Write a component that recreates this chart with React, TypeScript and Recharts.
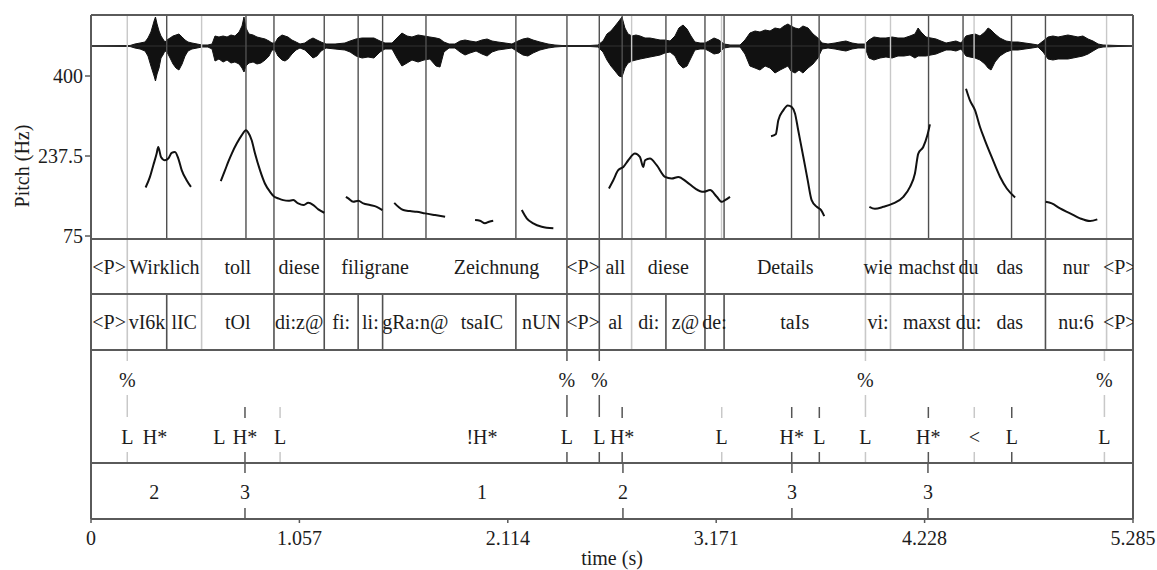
import React from 'react';
import {
  ComposedChart,
  XAxis,
  YAxis,
  Area,
  Line,
  Scatter,
  ReferenceLine,
} from 'recharts';

const T_MAX = 5.285;
const TIME_TICKS = [0, 1.057, 2.114, 3.171, 4.228, 5.285];
const PITCH_TICKS = [75, 237.5, 400];

// waveform envelope: [time (s), upper amplitude, lower amplitude] (arbitrary units)
const WAVE_ENVELOPE = [
  [0, 0, 0], [0.198, 0.5, 0.5], [0.223, 2, 2], [0.249, 3, 3], [0.274, 4, 5], [0.289, 8, 10],
  [0.304, 14, 20], [0.32, 25, 30], [0.327, 29, 35], [0.335, 22, 28], [0.345, 15, 22], [0.355, 10, 12],
  [0.365, 7, 9], [0.375, 4, 5], [0.385, 6, 6], [0.401, 8, 12], [0.416, 10, 18], [0.431, 11, 22],
  [0.446, 12, 24], [0.462, 9, 18], [0.477, 6, 10], [0.492, 4, 5], [0.512, 3, 3], [0.538, 2, 2],
  [0.563, 1, 1], [0.593, 1, 1], [0.614, 2, 3], [0.629, 10, 15], [0.649, 9, 13], [0.67, 10, 16],
  [0.69, 9, 14], [0.71, 11, 17], [0.73, 10, 16], [0.751, 14, 18], [0.766, 20, 22], [0.776, 29, 26],
  [0.786, 18, 20], [0.801, 12, 17], [0.822, 11, 16], [0.842, 9, 18], [0.862, 8, 17], [0.883, 7, 14],
  [0.903, 5, 10], [0.918, 3, 4], [0.933, 3, 4], [0.948, 8, 10], [0.969, 11, 14], [0.984, 10, 15],
  [0.999, 9, 13], [1.019, 6, 8], [1.04, 4, 4], [1.06, 2, 2], [1.085, 3, 4], [1.106, 6, 8],
  [1.126, 8, 12], [1.146, 6, 10], [1.167, 4, 5], [1.192, 2, 2], [1.238, 2, 3], [1.288, 3, 4],
  [1.314, 5, 6], [1.344, 7, 10], [1.375, 8, 12], [1.405, 8, 11], [1.435, 8, 12], [1.466, 5, 6],
  [1.491, 3, 3], [1.527, 3, 3], [1.552, 8, 12], [1.577, 13, 20], [1.603, 10, 17], [1.628, 9, 14],
  [1.659, 11, 16], [1.689, 10, 14], [1.719, 9, 13], [1.75, 8, 20], [1.77, 7, 21], [1.79, 4, 6],
  [1.816, 2, 2], [1.846, 2, 2], [1.872, 5, 6], [1.897, 6, 9], [1.922, 5, 7], [1.953, 4, 5],
  [1.983, 6, 8], [2.009, 7, 10], [2.034, 5, 6], [2.064, 4, 4], [2.1, 3, 3], [2.135, 2, 2],
  [2.166, 5, 6], [2.191, 7, 9], [2.216, 8, 10], [2.242, 6, 7], [2.277, 4, 4], [2.318, 2, 2],
  [2.353, 1, 1], [2.389, 0.5, 0.5], [2.531, 0.5, 0.5], [2.571, 1, 1], [2.597, 5, 6], [2.617, 12, 14],
  [2.637, 15, 20], [2.658, 20, 25], [2.678, 25, 30], [2.693, 29, 31], [2.708, 18, 22], [2.724, 12, 17],
  [2.744, 10, 15], [2.764, 11, 14], [2.785, 10, 13], [2.81, 8, 12], [2.835, 8, 11], [2.861, 7, 10],
  [2.886, 6, 9], [2.911, 6, 7], [2.937, 5, 6], [2.962, 10, 10], [2.982, 18, 18], [3.003, 21, 22],
  [3.023, 17, 20], [3.043, 10, 12], [3.063, 4, 4], [3.089, 3, 3], [3.114, 3, 3], [3.134, 5, 5],
  [3.16, 8, 8], [3.185, 6, 7], [3.211, 2, 2], [3.241, 1, 1], [3.292, 1, 1], [3.317, 6, 8],
  [3.342, 13, 20], [3.368, 15, 22], [3.393, 14, 24], [3.419, 16, 20], [3.444, 15, 22], [3.469, 18, 27],
  [3.495, 17, 24], [3.515, 20, 22], [3.535, 22, 20], [3.55, 20, 25], [3.571, 18, 27], [3.591, 17, 24],
  [3.611, 20, 27], [3.637, 18, 22], [3.662, 12, 18], [3.687, 8, 12], [3.708, 3, 3], [3.738, 2, 2],
  [3.774, 3, 3], [3.799, 4, 4], [3.829, 5, 5], [3.86, 3, 3], [3.89, 2, 2], [3.926, 2, 2],
  [3.946, 6, 12], [3.971, 9, 14], [4.002, 8, 12], [4.032, 8, 11], [4.063, 9, 12], [4.093, 8, 10],
  [4.124, 8, 10], [4.154, 10, 9], [4.179, 12, 12], [4.195, 18, 10], [4.21, 14, 10], [4.235, 9, 10],
  [4.26, 8, 9], [4.286, 7, 8], [4.311, 5, 6], [4.337, 3, 4], [4.362, 4, 4], [4.387, 5, 5],
  [4.413, 3, 3], [4.438, 10, 10], [4.458, 11, 11], [4.484, 12, 12], [4.509, 10, 14], [4.534, 14, 18],
  [4.55, 18, 22], [4.565, 16, 24], [4.585, 12, 16], [4.61, 8, 10], [4.641, 5, 6], [4.671, 4, 4],
  [4.702, 4, 4], [4.737, 3, 3], [4.773, 2, 2], [4.803, 1, 1], [4.829, 5, 6], [4.854, 9, 13],
  [4.879, 10, 14], [4.905, 9, 13], [4.93, 10, 13], [4.955, 11, 13], [4.981, 10, 12], [5.006, 9, 11],
  [5.031, 10, 10], [5.057, 7, 8], [5.082, 5, 5], [5.108, 2, 2], [5.133, 1, 1], [5.285, 0, 0],
];

// pitch contour segments: [time (s), F0 (Hz)]
const PITCH_WIRKLICH = [
  [0.277, 173.6], [0.299, 195], [0.316, 218.8], [0.333, 242.5], [0.341, 255.8], [0.355, 235.6],
  [0.375, 228.9], [0.392, 232.3], [0.409, 243.7], [0.426, 245.7], [0.443, 232.3], [0.46, 208.7],
  [0.485, 188.4], [0.507, 174.8],
];
const PITCH_TOLL_DIESE = [
  [0.658, 186.4], [0.68, 208.7], [0.696, 225.5], [0.714, 242.5], [0.739, 262.7], [0.764, 279.5],
  [0.786, 289.7], [0.796, 286.2], [0.815, 269.4], [0.832, 242.5], [0.857, 208.7], [0.882, 181.7],
  [0.908, 164.7], [0.93, 154.6], [0.95, 151.3], [0.975, 147.9], [1.001, 146.5], [1.026, 147.9],
  [1.051, 141.2], [1.077, 137.8], [1.102, 142.4], [1.128, 137.8], [1.153, 129.1], [1.183, 122.2],
];
const PITCH_FILI = [
  [1.293, 154.6], [1.305, 151.3], [1.33, 144.5], [1.356, 146.5], [1.381, 141.2], [1.415, 137.8],
  [1.449, 134.3], [1.478, 127.7],
];
const PITCH_GRANE = [
  [1.538, 142.4], [1.559, 134.3], [1.584, 127.7], [1.618, 125.6], [1.652, 124.2], [1.694, 121],
  [1.745, 117.5], [1.796, 114.1],
];
const PITCH_TSAI = [[1.948, 107.4], [1.973, 106], [1.998, 100.7], [2.019, 104], [2.04, 106]];
const PITCH_NUN = [[2.185, 127.7], [2.21, 110.8], [2.243, 100.7], [2.286, 93.8], [2.345, 90.6]];
const PITCH_ALL_DIESE = [
  [2.627, 171.6], [2.649, 188.4], [2.674, 208.7], [2.7, 215.3], [2.725, 228.9], [2.759, 242.5],
  [2.784, 235.6], [2.801, 215.3], [2.81, 228.9], [2.835, 232.3], [2.869, 218.8], [2.911, 195],
  [2.945, 191.8], [2.979, 195], [3.021, 185], [3.064, 171.6], [3.106, 164.7], [3.14, 168.2],
  [3.174, 154.6], [3.199, 144.5], [3.216, 147.9], [3.241, 154.6],
];
const PITCH_DETAILS = [
  [3.449, 277.5], [3.473, 281.6], [3.486, 309.9], [3.511, 330.2], [3.534, 340.3], [3.554, 336.8],
  [3.571, 323.5], [3.587, 289.7], [3.613, 235.6], [3.635, 188.4], [3.655, 147.9], [3.681, 134.3],
  [3.703, 127.7], [3.719, 115.5],
];
const PITCH_WIE_MACHST = [
  [3.948, 134.3], [3.976, 130.3], [4.019, 134.3], [4.069, 141.2], [4.12, 154.6], [4.154, 174.8],
  [4.179, 202], [4.196, 242.5], [4.221, 255.8], [4.242, 279.5], [4.255, 301.8],
];
const PITCH_DU_DAS = [
  [4.438, 374.1], [4.458, 350.4], [4.484, 330.2], [4.509, 296.3], [4.534, 269.4], [4.568, 235.6],
  [4.611, 195], [4.645, 171.6], [4.687, 153.4],
];
const PITCH_NUR = [
  [4.842, 144.5], [4.873, 141.2], [4.915, 131.1], [4.966, 121], [5.016, 110.8], [5.067, 105.4],
  [5.104, 108.8],
];
const PITCH_SEGMENTS = [
  PITCH_WIRKLICH, PITCH_TOLL_DIESE, PITCH_FILI, PITCH_GRANE, PITCH_TSAI, PITCH_NUN,
  PITCH_ALL_DIESE, PITCH_DETAILS, PITCH_WIE_MACHST, PITCH_DU_DAS, PITCH_NUR,
];

// boundaries drawn over the pitch panel, the ones drawn faint, and ones not drawn in the tiers
const PITCH_MARKS = [
  0.184, 0.384, 0.561, 0.786, 0.928, 1.183, 1.355, 1.479, 1.699, 2.155, 2.414, 2.578, 2.694, 2.742,
  2.916, 3.114, 3.198, 3.211, 3.553, 3.693, 3.928, 4.055, 4.248, 4.423, 4.479, 4.669, 4.841, 5.151,
];
const FAINT_BOUNDS = [0.184, 0.561, 2.742, 3.198, 3.928, 4.055, 4.479, 5.151];
const HIDDEN_BOUNDS = [1.699, 1.81];

// word tier
const WORD_LABELS = [
  '<P>', 'Wirklich', 'toll', 'diese', 'filigrane', 'Zeichnung', '<P>', 'all', 'diese', 'Details',
  'wie', 'machst', 'du', 'das', 'nur', '<P>',
];
const WORD_STARTS = [
  0, 0.184, 0.561, 0.928, 1.183, 1.699, 2.414, 2.578, 2.742, 3.114, 3.928, 4.055, 4.423, 4.479,
  4.841, 5.151,
];

// phone tier
const PHONE_LABELS = [
  '<P>', 'vI6k', 'lIC', 'tOl', 'di:z@', 'fi:', 'li:', 'gRa:n@', 'tsaIC', 'nUN', '<P>', 'al', 'di:',
  'z@', 'de:', 'taIs', 'vi:', 'maxst', 'du:', 'das', 'nu:6', '<P>',
];
const PHONE_STARTS = [
  0, 0.184, 0.384, 0.561, 0.928, 1.183, 1.355, 1.479, 1.81, 2.155, 2.414, 2.578, 2.742, 2.916,
  3.114, 3.211, 3.928, 4.055, 4.423, 4.479, 4.841, 5.151,
];

// tone tier (ToBI)
const TONE_TIMES = [
  0.184, 0.325, 0.651, 0.781, 0.959, 1.983, 2.414, 2.578, 2.694, 3.199, 3.554, 3.694, 3.928, 4.247,
  4.48, 4.67, 5.14,
];
const TONE_LABELS = ['L', 'H*', 'L', 'H*', 'L', '!H*', 'L', 'L', 'H*', 'L', 'H*', 'L', 'L', 'H*', '<', 'L', 'L'];
const TONE_PHRASE = [true, false, false, false, false, false, true, true, false, false, false, false, true, false, false, false, true];
const TONE_MARK = ['faint', '', '', 'dark', 'faint', '', 'dark', 'dark', 'dark', 'faint', 'dark', 'dark', 'faint', 'dark', 'faint', 'dark', 'faint'];

// break index tier
const BREAK_TIMES = [0.321, 0.781, 1.983, 2.698, 3.555, 4.245];
const BREAK_LABELS = ['2', '3', '1', '2', '3', '3'];
const BREAK_MARKED = [false, true, false, true, true, true];

const FONT = "'Liberation Serif', 'Times New Roman', serif";
const TEXT = '#1c1c1c';
const DARK = '#505050';
const FAINT = '#c8c8c8';
const FRAME = '#5a5a5a';

// vertical layout of the panels (layout axis units, 0 = top of frame)
const PITCH_BOTTOM = 224;
const WORD_BOTTOM = 279;
const PHONE_BOTTOM = 335;
const TONE_BOTTOM = 448;
const FRAME_BOTTOM = 504;

const near = (list: number[], t: number) => list.some((f) => Math.abs(f - t) < 0.004);

const intervals = (labels: string[], starts: number[], y: number) =>
  labels.map((label, i) => ({
    t: (starts[i] + (i + 1 < starts.length ? starts[i + 1] : T_MAX)) / 2,
    y,
    label,
  }));

const wordCells = intervals(WORD_LABELS, WORD_STARTS, 251.5);
const phoneCells = intervals(PHONE_LABELS, PHONE_STARTS, 307);
const toneCells = TONE_LABELS.map((label, i) => ({ t: TONE_TIMES[i], y: 422, label }));
const phraseCells = TONE_TIMES.filter((_, i) => TONE_PHRASE[i]).map((t) => ({ t, y: 365, label: '%' }));
const breakCells = BREAK_LABELS.map((label, i) => ({ t: BREAK_TIMES[i], y: 477, label }));

const waveData = WAVE_ENVELOPE.map(([t, up, down]) => ({ t, range: [-down, up] }));

const TierText = (props: any) => {
  const { cx, cy, payload } = props;
  return (
    <text
      x={cx}
      y={cy}
      textAnchor="middle"
      dominantBaseline="central"
      fontFamily={FONT}
      fontSize={20}
      fill={TEXT}
    >
      {payload.label}
    </text>
  );
};

const vseg = (key: string, t: number, y1: number, y2: number, color: string, w = 1.5) => (
  <ReferenceLine
    key={key}
    yAxisId="lay"
    segment={[{ x: t, y: y1 }, { x: t, y: y2 }]}
    stroke={color}
    strokeWidth={w}
    ifOverflow="visible"
  />
);

const TimeTick = ({ x, y, payload }: any) => (
  <text x={x} y={y + 13} textAnchor="middle" dominantBaseline="central" fontFamily={FONT} fontSize={20} fill={TEXT}>
    {payload.value === 0 ? '0' : Number(payload.value).toFixed(3)}
  </text>
);

const PitchTick = ({ x, y, payload }: any) => (
  <text x={x} y={y} textAnchor="end" dominantBaseline="central" fontFamily={FONT} fontSize={20} fill={TEXT}>
    {payload.value}
  </text>
);

export default function App() {
  const lines: React.ReactNode[] = [];

  // boundaries across the pitch / waveform panel
  PITCH_MARKS.forEach((t, i) =>
    lines.push(vseg(`p${i}`, t, 0, PITCH_BOTTOM, near(FAINT_BOUNDS, t) ? FAINT : DARK, 1.4)),
  );
  // interval tier boundaries
  WORD_STARTS.slice(1).forEach((t, i) => {
    if (near(HIDDEN_BOUNDS, t)) return;
    lines.push(vseg(`w${i}`, t, PITCH_BOTTOM, WORD_BOTTOM, near(FAINT_BOUNDS, t) ? FAINT : DARK, 1.6));
  });
  PHONE_STARTS.slice(1).forEach((t, i) => {
    if (near(HIDDEN_BOUNDS, t)) return;
    lines.push(vseg(`ph${i}`, t, WORD_BOTTOM, PHONE_BOTTOM, near(FAINT_BOUNDS, t) ? FAINT : DARK, 1.6));
  });
  // point tier marks
  TONE_TIMES.forEach((t, i) => {
    const mark = TONE_MARK[i];
    if (!mark) return;
    const c = mark === 'faint' ? FAINT : '#555';
    if (TONE_PHRASE[i]) {
      lines.push(vseg(`tp0${i}`, t, PHONE_BOTTOM, 346, c));
      lines.push(vseg(`tp1${i}`, t, 380, 402, c));
    } else {
      lines.push(vseg(`ta${i}`, t, 392, 403, c));
    }
    lines.push(vseg(`tb${i}`, t, 437, TONE_BOTTOM, c));
  });
  BREAK_TIMES.forEach((t, i) => {
    if (!BREAK_MARKED[i]) return;
    lines.push(vseg(`ba${i}`, t, TONE_BOTTOM, 458, '#555'));
    lines.push(vseg(`bb${i}`, t, 493, FRAME_BOTTOM, '#555'));
  });

  return (
    <div style={{ position: 'absolute', left: 0, top: 0, width: 1157, height: 570, background: '#fff' }}>
      <ComposedChart width={1157} height={570} margin={{ top: 15, right: 24, bottom: 0, left: 11 }}>
        <XAxis
          dataKey="t"
          type="number"
          domain={[0, T_MAX]}
          ticks={TIME_TICKS}
          allowDataOverflow
          height={51}
          tickSize={4}
          tickLine={{ stroke: FRAME, strokeWidth: 1.5 }}
          axisLine={{ stroke: FRAME, strokeWidth: 2 }}
          tick={<TimeTick />}
          label={{
            content: ({ viewBox }: any) => (
              <text
                x={viewBox.x + viewBox.width / 2}
                y={558}
                textAnchor="middle"
                dominantBaseline="central"
                fontFamily={FONT}
                fontSize={20}
                fill={TEXT}
              >
                time (s)
              </text>
            ),
          }}
        />
        <YAxis
          yAxisId="pitch"
          orientation="left"
          type="number"
          width={80}
          domain={[-499.8, 523.9]}
          ticks={PITCH_TICKS}
          allowDataOverflow
          axisLine={false}
          tickSize={6}
          tickMargin={2}
          tickLine={{ stroke: FRAME, strokeWidth: 1.5 }}
          tick={<PitchTick />}
          label={{
            content: () => (
              <text
                x={22}
                y={166}
                transform="rotate(-90 22 166)"
                textAnchor="middle"
                dominantBaseline="central"
                fontFamily={FONT}
                fontSize={20}
                fill={TEXT}
              >
                Pitch (Hz)
              </text>
            ),
          }}
        />
        <YAxis yAxisId="wave" orientation="right" width={0} type="number" hide domain={[-473, 31]} allowDataOverflow />
        <YAxis yAxisId="lay" orientation="right" width={0} type="number" hide domain={[0, FRAME_BOTTOM]} reversed allowDataOverflow />

        {/* waveform */}
        <ReferenceLine yAxisId="wave" y={0} stroke="#333" strokeWidth={1} />
        <Area
          yAxisId="wave"
          data={waveData}
          dataKey="range"
          type="linear"
          fill="#111"
          fillOpacity={1}
          stroke="#111"
          strokeWidth={1}
          isAnimationActive={false}
        />

        {lines}

        {/* pitch contour */}
        {PITCH_SEGMENTS.map((seg, i) => (
          <Line
            key={`pitch${i}`}
            yAxisId="pitch"
            data={seg.map(([t, hz]) => ({ t, hz }))}
            dataKey="hz"
            type="monotone"
            stroke="#111"
            strokeWidth={2}
            dot={false}
            isAnimationActive={false}
          />
        ))}

        {/* panel frame and tier separators */}
        <ReferenceLine yAxisId="lay" y={0} stroke={FRAME} strokeWidth={2} />
        <ReferenceLine yAxisId="lay" y={PITCH_BOTTOM} stroke={FRAME} strokeWidth={2} />
        <ReferenceLine yAxisId="lay" y={WORD_BOTTOM} stroke={FRAME} strokeWidth={2} />
        <ReferenceLine yAxisId="lay" y={PHONE_BOTTOM} stroke={FRAME} strokeWidth={2} />
        <ReferenceLine yAxisId="lay" y={TONE_BOTTOM} stroke={FRAME} strokeWidth={2} />
        <ReferenceLine yAxisId="lay" x={0} stroke={FRAME} strokeWidth={2} />
        <ReferenceLine yAxisId="lay" x={T_MAX} stroke={FRAME} strokeWidth={2} />

        {/* tier labels */}
        <Scatter yAxisId="lay" data={wordCells} dataKey="y" shape={<TierText />} isAnimationActive={false} />
        <Scatter yAxisId="lay" data={phoneCells} dataKey="y" shape={<TierText />} isAnimationActive={false} />
        <Scatter yAxisId="lay" data={phraseCells} dataKey="y" shape={<TierText />} isAnimationActive={false} />
        <Scatter yAxisId="lay" data={toneCells} dataKey="y" shape={<TierText />} isAnimationActive={false} />
        <Scatter yAxisId="lay" data={breakCells} dataKey="y" shape={<TierText />} isAnimationActive={false} />
      </ComposedChart>
    </div>
  );
}
